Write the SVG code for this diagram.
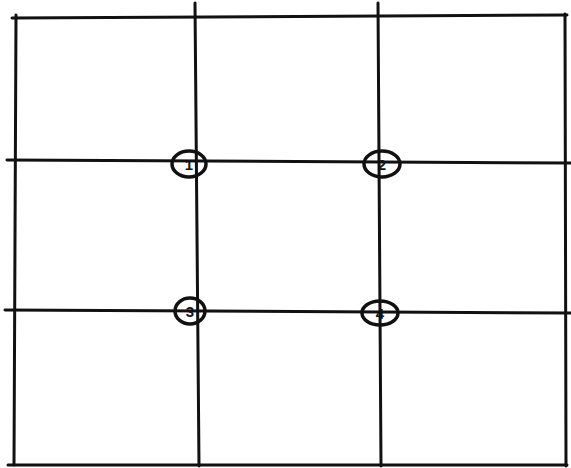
<svg xmlns="http://www.w3.org/2000/svg" width="571" height="468" viewBox="0 0 571 468">
<style>
.ln{stroke:#111;stroke-width:3;fill:none;stroke-linecap:round}
.c{stroke:#111;stroke-width:3.5;fill:none}
.t{font-family:"Liberation Sans",Arial,sans-serif;font-size:15px;font-weight:bold;fill:#111;text-anchor:middle;dominant-baseline:central}
</style>
<rect width="571" height="468" fill="#fff"/>
<g id="connectors">
<path class="ln" d="M12 18 L567 15"/>
<path class="ln" d="M8 465 L567 465"/>
<path class="ln" d="M16 15 L14 465"/>
<path class="ln" d="M565 14 L566 466"/>
<path class="ln" d="M195 3 L199 466"/>
<path class="ln" d="M378 3 L381 466"/>
<path class="ln" d="M7 160 L571 163"/>
<path class="ln" d="M5 310 L571 313"/>
</g>
<g id="n1"><ellipse class="c" cx="189" cy="164" rx="17" ry="13"/><text class="t" x="189" y="164">1</text></g>
<g id="n2"><ellipse class="c" cx="382" cy="164" rx="18" ry="13"/><text class="t" x="382" y="164">2</text></g>
<g id="n3"><ellipse class="c" cx="190" cy="311" rx="15" ry="13"/><text class="t" x="190" y="311">3</text></g>
<g id="n4"><ellipse class="c" cx="380" cy="313" rx="18" ry="12"/><text class="t" x="380" y="313">4</text></g>
</svg>
